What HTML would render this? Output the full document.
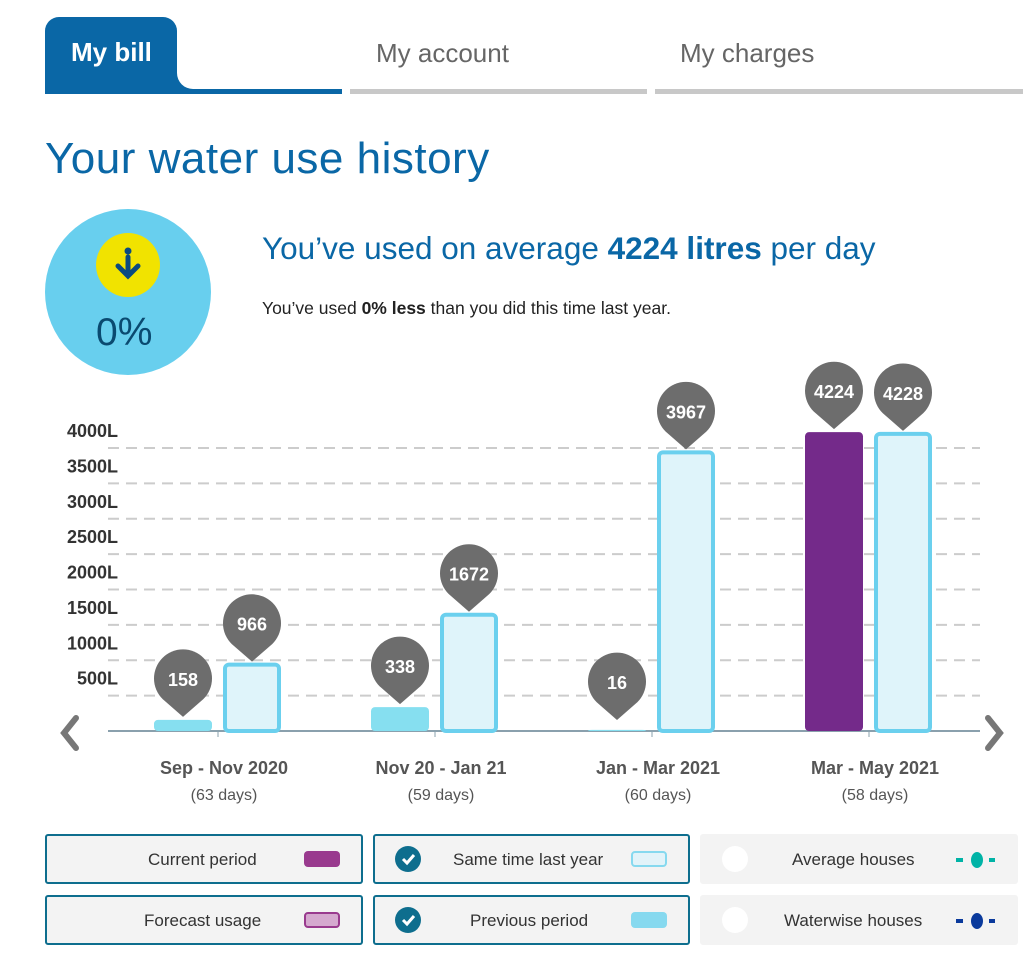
<!DOCTYPE html>
<html><head><meta charset="utf-8"><style>
body{margin:0;width:1023px;height:956px;background:#fff;font-family:"Liberation Sans",sans-serif;position:relative;overflow:hidden}
.abs{position:absolute}
.tab{position:absolute;top:38px;font-size:26px;color:#666}
.leg{position:absolute;box-sizing:border-box;height:50px;background:#f3f3f3;border:2px solid #0e6e8e;border-radius:3px;font-size:17px;color:#333}
.leg .t{position:absolute;top:14px}
.sw{position:absolute;top:15px;width:36px;height:16px;border-radius:4px;box-sizing:border-box}
.chk{position:absolute;left:20px;top:10px;width:26px;height:26px;border-radius:50%;background:#0e6e8e}
.wc{position:absolute;left:20px;top:10px;width:26px;height:26px;border-radius:50%;background:#fff}
</style></head><body>
<div class="abs" style="left:45px;top:17px;width:132px;height:76px;background:#0a67a6;border-radius:14px 14px 0 0"></div>
<div class="abs" style="left:177px;top:69px;width:20px;height:22px;background:#0a67a6"></div>
<div class="abs" style="left:177px;top:60px;width:22px;height:29px;background:#fff;border-bottom-left-radius:16px"></div>
<div class="abs" style="left:45px;top:89px;width:297px;height:5px;background:#0a67a6"></div>
<div class="abs" style="left:71px;top:37px;font-size:26px;color:#fff;font-weight:bold">My bill</div>
<div class="tab" style="left:376px">My account</div>
<div class="abs" style="left:350px;top:89px;width:297px;height:5px;background:#c8c8c8"></div>
<div class="tab" style="left:680px">My charges</div>
<div class="abs" style="left:655px;top:89px;width:368px;height:5px;background:#c8c8c8"></div>
<div class="abs" style="left:45px;top:134px;font-size:44px;color:#0a67a6;letter-spacing:0.5px">Your water use history</div>
<div class="abs" style="left:45px;top:209px;width:166px;height:166px;border-radius:50%;background:#68cfee"></div>
<div class="abs" style="left:96px;top:233px;width:64px;height:64px;border-radius:50%;background:#f1e300">
<svg width="64" height="64"><circle cx="32" cy="18" r="3.5" fill="#0a4a80"/><path d="M32 24V42M22 33L32 43L42 33" stroke="#0a4a80" stroke-width="5" fill="none" stroke-linecap="round"/></svg></div>
<div class="abs" style="left:96px;top:311px;font-size:39px;color:#0a4a70">0%</div>
<div class="abs" style="left:262px;top:230px;font-size:31.5px;color:#0a67a6">You’ve used on average <b>4224 litres</b> per day</div>
<div class="abs" style="left:262px;top:298px;font-size:17.5px;color:#222">You’ve used <b>0% less</b> than you did this time last year.</div>
<svg class="abs" style="left:0;top:0" width="1023" height="956" id="chart"></svg>
<div class="leg" style="left:45px;top:834px;width:318px"><span class="t" style="left:101px">Current period</span><span class="sw" style="left:257px;background:#993a8e"></span></div>
<div class="leg" style="left:373px;top:834px;width:317px"><span class="chk"><svg width="26" height="26"><path d="M8 13l4 4 7-8" stroke="#fff" stroke-width="3" fill="none"/></svg></span><span class="t" style="left:78px">Same time last year</span><span class="sw" style="left:256px;background:#e2f3f9;border:2px solid #86d9ef"></span></div>
<div class="leg" style="left:700px;top:834px;width:318px;border-color:#f3f3f3"><span class="wc"></span><span class="t" style="left:90px">Average houses</span><svg class="abs" style="left:252px;top:14px" width="46" height="20"><rect x="2" y="8" width="7" height="4" fill="#00b3a6"/><ellipse cx="23" cy="10" rx="6" ry="8" fill="#00b3a6"/><rect x="35" y="8" width="6" height="4" fill="#00b3a6"/></svg></div>
<div class="leg" style="left:45px;top:895px;width:318px"><span class="t" style="left:97px">Forecast usage</span><span class="sw" style="left:257px;background:#d5a9cf;border:2px solid #993a8e"></span></div>
<div class="leg" style="left:373px;top:895px;width:317px"><span class="chk"><svg width="26" height="26"><path d="M8 13l4 4 7-8" stroke="#fff" stroke-width="3" fill="none"/></svg></span><span class="t" style="left:95px">Previous period</span><span class="sw" style="left:256px;background:#86d9ef"></span></div>
<div class="leg" style="left:700px;top:895px;width:318px;border-color:#f3f3f3"><span class="wc"></span><span class="t" style="left:82px">Waterwise houses</span><svg class="abs" style="left:252px;top:14px" width="46" height="20"><rect x="2" y="8" width="7" height="4" fill="#0a3a9c"/><ellipse cx="23" cy="10" rx="6" ry="8" fill="#0a3a9c"/><rect x="35" y="8" width="6" height="4" fill="#0a3a9c"/></svg></div>
<script>
const categories=["Sep - Nov 2020","Nov 20 - Jan 21","Jan - Mar 2021","Mar - May 2021"];
const daysLabels=["(63 days)","(59 days)","(60 days)","(58 days)"];
const leftValues=[158,338,16,4224];
const leftKinds=["previous","previous","previous","current"];
const rightValues=[966,1672,3967,4228];
const yTicks=[500,1000,1500,2000,2500,3000,3500,4000];
const NS="http://www.w3.org/2000/svg";
const svg=document.getElementById('chart');
const base=731, scale=283/4000, x0=218, step=217;
const y=v=>base-v*scale;
const xc=i=>x0+i*step;
function mk(t,a){const e=document.createElementNS(NS,t);for(const k in a)e.setAttribute(k,a[k]);svg.appendChild(e);return e;}
yTicks.forEach(v=>{
 const l=mk('line',{x1:108,x2:980,y1:y(v),y2:y(v),stroke:'#ccc','stroke-width':2,'stroke-dasharray':'11 7'});
 
 
 const t=mk('text',{x:118,y:y(v)-11,'text-anchor':'end','font-size':18,'font-weight':'bold',fill:'#333'});
 t.textContent=v+'L';
 
 
});
const ax=mk('line',{x1:108,x2:980,y1:base,y2:base,stroke:'#8aa0ad','stroke-width':2});


function pin(cx,tip,val){
 const cy=tip-38,r=29;
 const p=mk('path',{d:`M${cx-r*0.7} ${cy+r*0.7} A${r} ${r} 0 1 1 ${cx+r*0.7} ${cy+r*0.7} L${cx} ${tip} Z`,fill:'#6d6d6d'});
 
 
 const t=mk('text',{x:cx,y:cy+7,'text-anchor':'middle','font-size':18,'font-weight':'bold',fill:'#fff'});
 t.textContent=val;
 
 
}
categories.forEach((c,i)=>{
 const cx=xc(i);
 const lx=cx-64, rx=cx+5, w=58;
 const lv=leftValues[i], ly=y(lv);
 let b;
 if(leftKinds[i]==='current') b=mk('rect',{x:lx,y:ly,width:w,height:base-ly,rx:4,fill:'#742a8a'});
 else b=mk('rect',{x:lx,y:ly,width:w,height:Math.max(base-ly,0),rx:4,fill:'#86dff0'});
 
 
 pin(lx+w/2,Math.min(ly-3,720),lv);
 const rv=rightValues[i], ry=y(rv);
 const r=mk('rect',{x:rx+2,y:ry+2,width:w-4,height:base-ry-2,rx:4,fill:'#dff4fa',stroke:'#6bd0ee','stroke-width':4});
 
 
 pin(rx+w/2,ry-1,rv);
 const tk=mk('line',{x1:cx,x2:cx,y1:base,y2:base+6,stroke:'#8aa0ad','stroke-width':1});
 
 
 const t=mk('text',{x:cx+6,y:774,'text-anchor':'middle','font-size':18,'font-weight':'bold',fill:'#555'});
 t.textContent=c;
 
 
 const d=mk('text',{x:cx+6,y:800,'text-anchor':'middle','font-size':16,fill:'#555'});
 d.textContent=daysLabels[i];
 
 
});
const pa=mk('path',{d:'M76 718 L64 733 L76 748',stroke:'#777','stroke-width':6,fill:'none','stroke-linecap':'round'});


const na=mk('path',{d:'M988 718 L1000 733 L988 748',stroke:'#777','stroke-width':6,fill:'none','stroke-linecap':'round'});


</script>
</body></html>
